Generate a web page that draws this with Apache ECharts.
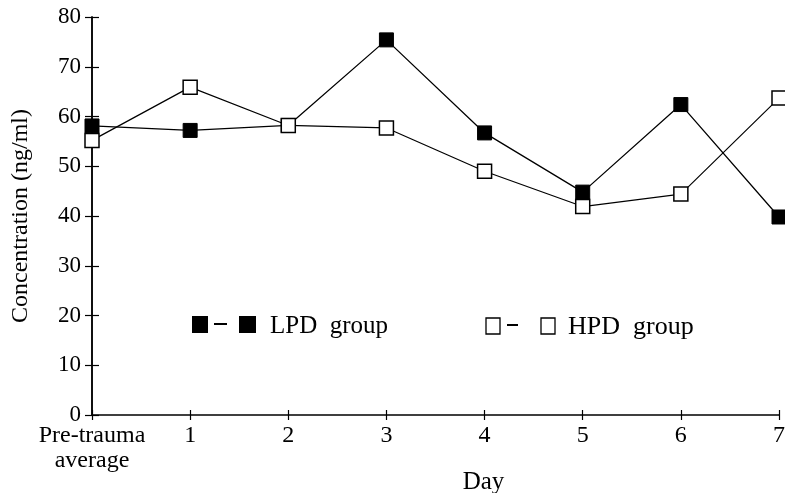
<!DOCTYPE html>
<html><head><meta charset="utf-8">
<script src="https://cdn.jsdelivr.net/npm/echarts@6/dist/echarts.min.js"></script>
<style>html,body{margin:0;padding:0;background:#fff}#c{width:785px;height:493px}</style>
</head><body><div id="c"></div>
<script>
const categories = ['Pre-trauma\naverage','1','2','3','4','5','6','7'];
const lpd = [58.1, 57.2, 58.2, 75.4, 56.7, 44.8, 62.4, 39.8];
const hpd = [55.2, 65.9, 58.2, 57.7, 49.0, 41.9, 44.4, 63.7];
const yTicks = [0,10,20,30,40,50,60,70,80];

const F = 'Liberation Serif, Times New Roman, serif';
const chart = echarts.init(document.getElementById('c'), null, {renderer:'canvas'});
const baseY = {
  type:'value', min:0, max:80, interval:10,
  axisLine:{show:true, lineStyle:{color:'#000', width:1.5}},
  splitLine:{show:false}
};
chart.setOption({
  animation:false,
  backgroundColor:'#fff',
  grid:{left:92, right:6, top:17, bottom:78, containLabel:false, outerBoundsMode:'none'},
  xAxis:[{
    type:'category', data:categories, boundaryGap:false,
    axisLine:{lineStyle:{color:'#000', width:1.5}},
    axisTick:{show:true, alignWithLabel:true, length:5, lineStyle:{color:'#000', width:1.2}},
    axisLabel:{color:'#000', fontFamily:F, fontSize:24, margin:8, lineHeight:25, interval:0},
    name:'Day', nameLocation:'middle', nameGap:55, nameMoveOverlap:false,
    nameTextStyle:{color:'#000', fontFamily:F, fontSize:25, padding:[0,0,0,96]}
  },{
    type:'category', data:categories, boundaryGap:false, position:'bottom',
    axisLine:{show:false},
    axisTick:{show:true, inside:true, length:5, lineStyle:{color:'#000', width:1.2}},
    axisLabel:{show:false}
  }],
  yAxis:[Object.assign({}, baseY, {
    axisTick:{show:true, length:7, lineStyle:{color:'#000', width:1.2}},
    axisLabel:{color:'#000', fontFamily:F, fontSize:23, margin:11,
      formatter:(v)=> yTicks.includes(v) ? String(v) : ''},
    name:'Concentration (ng/ml)', nameLocation:'middle', nameGap:59, nameRotate:90, nameMoveOverlap:false,
    nameTextStyle:{color:'#000', fontFamily:F, fontSize:24}
  }), Object.assign({}, baseY, {
    position:'left',
    axisTick:{show:true, inside:true, length:7, lineStyle:{color:'#000', width:1.2}},
    axisLabel:{show:false}
  })],
  series:[{
    name:'LPD group', type:'line', data:lpd,
    symbol:'rect', symbolSize:14,
    lineStyle:{color:'#000', width:1.3},
    itemStyle:{color:'#000', borderColor:'#000', borderWidth:1},
    z:2
  },{
    name:'HPD group', type:'line', data:hpd,
    symbol:'rect', symbolSize:14,
    lineStyle:{color:'#000', width:1.2},
    itemStyle:{color:'#fff', borderColor:'#000', borderWidth:1.5},
    z:3
  }],
  graphic:[
    {type:'rect', shape:{x:192, y:316, width:16, height:17}, style:{fill:'#000'}},
    {type:'line', shape:{x1:214, y1:324, x2:227, y2:324}, style:{stroke:'#000', lineWidth:2}},
    {type:'rect', shape:{x:239, y:316, width:17, height:17}, style:{fill:'#000'}},
    {type:'text', x:270, y:326, style:{text:'LPD  group', font:'25px '+F, fill:'#000', textVerticalAlign:'middle'}},
    {type:'rect', shape:{x:486, y:318, width:14, height:16}, style:{fill:'#fff', stroke:'#000', lineWidth:1.3}},
    {type:'line', shape:{x1:507, y1:325, x2:518, y2:325}, style:{stroke:'#000', lineWidth:2}},
    {type:'rect', shape:{x:541, y:318, width:14, height:16}, style:{fill:'#fff', stroke:'#000', lineWidth:1.3}},
    {type:'text', x:568, y:327, style:{text:'HPD  group', font:'26px '+F, fill:'#000', textVerticalAlign:'middle'}}
  ]
});
</script></body></html>
